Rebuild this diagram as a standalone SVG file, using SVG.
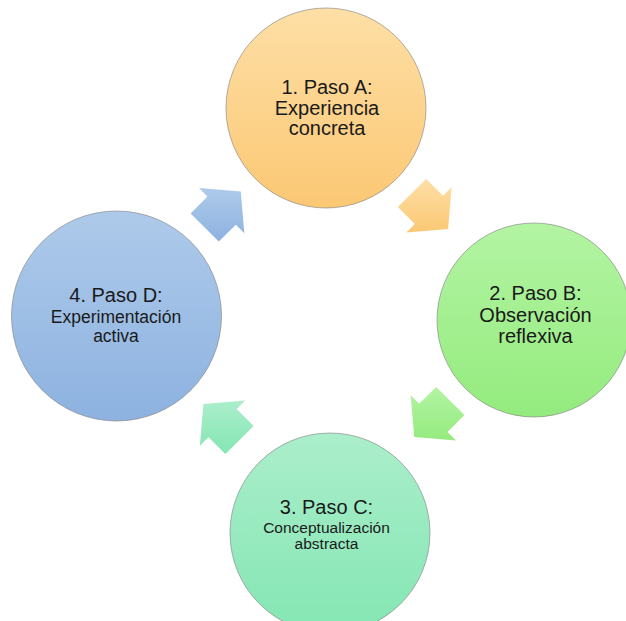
<svg xmlns="http://www.w3.org/2000/svg" width="626" height="621" viewBox="0 0 626 621">
  <defs>
    <linearGradient id="gOrange" x1="0" y1="0" x2="0" y2="1">
      <stop offset="0" stop-color="#fedfa6"/>
      <stop offset="1" stop-color="#fbc874"/>
    </linearGradient>
    <linearGradient id="gGreen" x1="0" y1="0" x2="0" y2="1">
      <stop offset="0" stop-color="#b3f4a3"/>
      <stop offset="1" stop-color="#94eb7e"/>
    </linearGradient>
    <linearGradient id="gTeal" x1="0" y1="0" x2="0" y2="1">
      <stop offset="0" stop-color="#abeecb"/>
      <stop offset="1" stop-color="#84e6b3"/>
    </linearGradient>
    <linearGradient id="gBlue" x1="0" y1="0" x2="0" y2="1">
      <stop offset="0" stop-color="#aecaea"/>
      <stop offset="1" stop-color="#8db2e0"/>
    </linearGradient>
    <style>
      .node circle { stroke: #7f7f7f; stroke-opacity: 0.6; stroke-width: 1; }
      .t { font-family: "Liberation Sans", Arial, sans-serif; fill: #1a1a1a; text-anchor: middle; }
      .big { font-size: 20px; }
      .sub { font-size: 15.5px; }
      .mid { font-size: 17.5px; }
    </style>
  </defs>
  <rect width="626" height="621" fill="#ffffff"/>

  <g id="connectors">
    <polygon id="arrow1" fill="url(#gOrange)" points="426.1,178.9 443.1,195.8 451.6,187.3 448.1,229.1 406.3,232.6 414.8,224.1 397.9,207.1"/>
    <polygon id="arrow2" fill="url(#gGreen)" points="464.4,415.1 447.5,432.1 456,440.6 414.2,437.1 410.7,395.3 419.2,403.8 436.2,386.9"/>
    <polygon id="arrow3" fill="url(#gTeal)" points="225.4,454.1 208.4,437.2 199.9,445.7 203.4,404 245.2,400.4 236.7,408.9 253.6,425.9"/>
    <polygon id="arrow4" fill="url(#gBlue)" points="190.6,213.4 207.5,196.4 199,187.9 240.8,191.4 244.3,233.2 235.8,224.7 218.8,241.6"/>
  </g>

  <g id="node1" class="node">
    <circle cx="326" cy="108" r="100" fill="url(#gOrange)"/>
    <text class="t big" x="327" y="94">1. Paso A:</text>
    <text class="t big" x="327" y="114.5">Experiencia</text>
    <text class="t big" x="327" y="135">concreta</text>
  </g>

  <g id="node2" class="node">
    <circle cx="534" cy="320" r="97" fill="url(#gGreen)"/>
    <text class="t big" x="535.5" y="300">2. Paso B:</text>
    <text class="t big" x="535.5" y="321.5">Observación</text>
    <text class="t big" x="535.5" y="342.5">reflexiva</text>
  </g>

  <g id="node3" class="node">
    <circle cx="330" cy="533" r="100" fill="url(#gTeal)"/>
    <text class="t big" x="326.5" y="514">3. Paso C:</text>
    <text class="t sub" x="326.5" y="533">Conceptualización</text>
    <text class="t sub" x="326.5" y="548.5">abstracta</text>
  </g>

  <g id="node4" class="node">
    <circle cx="116.5" cy="316" r="105" fill="url(#gBlue)"/>
    <text class="t big" x="116" y="302">4. Paso D:</text>
    <text class="t mid" x="116" y="323">Experimentación</text>
    <text class="t mid" x="116" y="342">activa</text>
  </g>
</svg>
